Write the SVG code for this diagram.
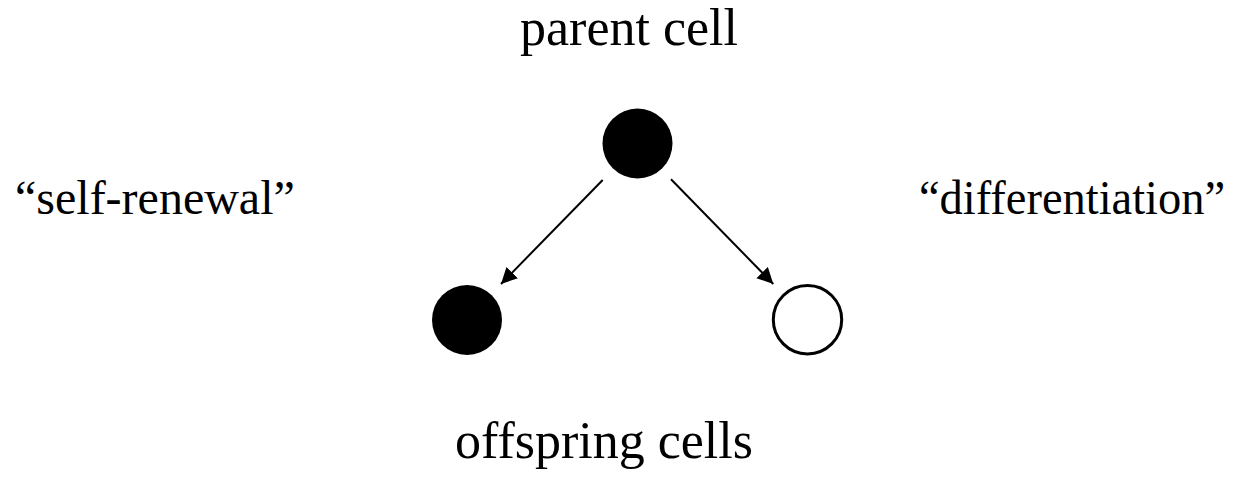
<svg xmlns="http://www.w3.org/2000/svg" width="1239" height="483" viewBox="0 0 1239 483">
  <style>
    .lbl { font-family: "Liberation Serif", "Times New Roman", serif; fill: #000; }
    .big { font-size: 52px; }
    .side { font-size: 48px; }
    .conn { stroke: #000; stroke-width: 2; fill: none; }
  </style>
  <defs>
    <marker id="arrow" markerUnits="userSpaceOnUse" markerWidth="18" markerHeight="18" refX="16" refY="8" orient="auto">
      <path d="M0,0 L16,8 L0,16 z" fill="#000"/>
    </marker>
  </defs>
  <rect width="1239" height="483" fill="#fff"/>
  <g id="label-parent">
    <text class="lbl big" x="629" y="45" text-anchor="middle">parent cell</text>
  </g>
  <g id="label-self-renewal">
    <text class="lbl side" x="15" y="214">“self-renewal”</text>
  </g>
  <g id="label-differentiation">
    <text class="lbl side" x="919" y="214" textLength="306" lengthAdjust="spacingAndGlyphs">“differentiation”</text>
  </g>
  <g id="label-offspring">
    <text class="lbl big" x="604" y="458" text-anchor="middle">offspring cells</text>
  </g>
  <g id="parent-cell">
    <circle cx="637.5" cy="143.5" r="35" fill="#000"/>
  </g>
  <g id="offspring-self">
    <circle cx="467" cy="320" r="35" fill="#000"/>
  </g>
  <g id="offspring-diff">
    <circle cx="807.5" cy="319.7" r="34.2" fill="#fff" stroke="#000" stroke-width="3"/>
  </g>
  <g id="connectors">
    <line class="conn" x1="602.7" y1="180" x2="501" y2="284" marker-end="url(#arrow)"/>
    <line class="conn" x1="671" y1="179.3" x2="773.3" y2="284" marker-end="url(#arrow)"/>
  </g>
</svg>
